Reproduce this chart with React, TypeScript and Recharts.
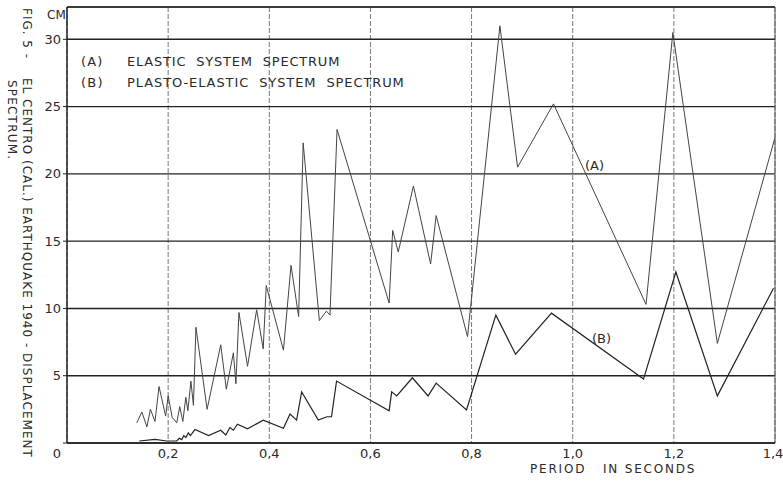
import React from 'react';
import { LineChart, Line, XAxis, YAxis, CartesianGrid, ReferenceLine } from 'recharts';

// Series A: elastic system spectrum (period s, displacement cm)
const periodsA = [0.138, 0.148, 0.158, 0.165, 0.174, 0.182, 0.195, 0.2, 0.208, 0.217, 0.223, 0.229, 0.235, 0.239, 0.245, 0.25, 0.255, 0.277, 0.304, 0.315, 0.329, 0.334, 0.34, 0.357, 0.375, 0.388, 0.394, 0.428, 0.443, 0.458, 0.467, 0.499, 0.513, 0.52, 0.534, 0.637, 0.644, 0.655, 0.685, 0.719, 0.73, 0.792, 0.856, 0.891, 0.962, 1.145, 1.198, 1.286, 1.4];
const elasticA = [1.5, 2.3, 1.2, 2.5, 1.6, 4.2, 2.0, 3.5, 1.9, 1.5, 2.7, 1.6, 3.4, 2.4, 4.6, 2.8, 8.6, 2.5, 7.3, 4.0, 6.7, 4.4, 9.7, 5.7, 9.9, 7.0, 11.7, 6.9, 13.2, 9.4, 22.3, 9.1, 9.8, 9.5, 23.3, 10.4, 15.8, 14.2, 19.1, 13.3, 16.9, 7.9, 31.0, 20.5, 25.2, 10.3, 30.5, 7.4, 22.7];

// Series B: plasto-elastic system spectrum
const periodsB = [0.143, 0.174, 0.197, 0.217, 0.222, 0.227, 0.231, 0.235, 0.24, 0.244, 0.253, 0.28, 0.304, 0.314, 0.322, 0.329, 0.337, 0.357, 0.388, 0.428, 0.441, 0.454, 0.464, 0.497, 0.514, 0.523, 0.533, 0.637, 0.642, 0.652, 0.683, 0.714, 0.73, 0.79, 0.848, 0.887, 0.958, 1.14, 1.204, 1.286, 1.397];
const plastoB = [0.15, 0.27, 0.15, 0.15, 0.35, 0.25, 0.55, 0.4, 0.75, 0.55, 1.0, 0.55, 0.95, 0.6, 1.15, 0.95, 1.4, 1.05, 1.7, 1.1, 2.15, 1.7, 3.8, 1.7, 1.95, 1.95, 4.6, 2.4, 3.8, 3.5, 4.85, 3.5, 4.45, 2.45, 9.5, 6.6, 9.65, 4.75, 12.7, 3.5, 11.5];

const xTicks = [0, 0.2, 0.4, 0.6, 0.8, 1.0, 1.2, 1.4];
const xTickLabels = ['0', '0,2', '0,4', '0,6', '0,8', '1,0', '1,2', '1,4'];
const yTicks = [0, 5, 10, 15, 20, 25, 30];
const yTickLabels = ['0', '5', '10', '15', '20', '25', '30'];
const yMax = 32.4;

const legendA = ['(A)', 'ELASTIC  SYSTEM  SPECTRUM'];
const legendB = ['(B)', 'PLASTO-ELASTIC  SYSTEM  SPECTRUM'];
const titleParts = ['FIG. 5 -', 'EL CENTRO (CAL.) EARTHQUAKE 1940 - DISPLACEMENT', 'SPECTRUM.'];
const xTitle = 'PERIOD   IN SECONDS';
const yUnit = 'CM';

const dataA = periodsA.map((x, i) => ({ x, y: elasticA[i] }));
const dataB = periodsB.map((x, i) => ({ x, y: plastoB[i] }));

const FONT = '"DejaVu Sans", sans-serif';
const INK = '#2a2a2a';

const XTick = (props: any) => {
  const { x, y, payload } = props;
  const i = xTicks.indexOf(payload.value);
  const dx = payload.value === 0 ? -10 : 0;
  return (
    <text x={x + dx} y={y + 10} textAnchor="middle" dominantBaseline="central" fontSize={13} fill={INK} fontFamily={FONT}>
      {xTickLabels[i]}
    </text>
  );
};

const YTick = (props: any) => {
  const { x, y, payload } = props;
  if (payload.value === 0) return null;
  const i = yTicks.indexOf(payload.value);
  return (
    <text x={x - 2} y={y} textAnchor="end" dominantBaseline="central" fontSize={13} fill={INK} fontFamily={FONT}>
      {yTickLabels[i]}
    </text>
  );
};

const abs = (left: number, top: number, extra: React.CSSProperties = {}): React.CSSProperties => ({
  position: 'absolute',
  left,
  top,
  fontFamily: FONT,
  color: INK,
  whiteSpace: 'pre',
  ...extra,
});

const rot = (left: number, top: number, spacing: number): React.CSSProperties =>
  abs(left, top, {
    fontSize: 12,
    lineHeight: '14px',
    letterSpacing: spacing,
    transform: 'rotate(90deg)',
    transformOrigin: 'left top',
  });

export default function App() {
  return (
    <div style={{ position: 'absolute', left: 0, top: 0, width: 783, height: 483, background: '#fff' }}>
      <LineChart width={783} height={483} data={dataA} margin={{ top: 7, right: 8, bottom: 10, left: 27 }}>
        <CartesianGrid horizontal={false} stroke="#777" strokeDasharray="5 2" strokeWidth={1} />
        <CartesianGrid vertical={false} stroke="#222" strokeWidth={1.4} />
        <XAxis
          type="number"
          dataKey="x"
          domain={[0, 1.4]}
          ticks={xTicks}
          height={30}
          tickSize={0}
          tickMargin={0}
          tick={<XTick />}
          axisLine={{ stroke: '#222', strokeWidth: 1.5 }}
          tickLine={false}
          allowDataOverflow
        />
        <YAxis
          type="number"
          dataKey="y"
          domain={[0, yMax]}
          ticks={yTicks}
          width={40}
          tickSize={4}
          tickMargin={0}
          tick={<YTick />}
          axisLine={{ stroke: '#222', strokeWidth: 1.5 }}
          tickLine={{ stroke: '#222' }}
          allowDataOverflow
        />
        <ReferenceLine y={yMax} stroke="#333" strokeWidth={1.3} />
        <ReferenceLine x={1.4} stroke="#555" strokeWidth={1} />
        <Line data={dataA} dataKey="y" type="linear" stroke="#444" strokeWidth={1} dot={false} isAnimationActive={false} />
        <Line data={dataB} dataKey="y" type="linear" stroke="#222" strokeWidth={1.2} dot={false} isAnimationActive={false} />
      </LineChart>

      <div style={abs(47, 8, { fontSize: 12, lineHeight: '14px' })}>{yUnit}</div>

      <div style={abs(81, 54, { fontSize: 13, lineHeight: '16px', letterSpacing: 1.2 })}>{legendA[0]}</div>
      <div style={abs(127, 54, { fontSize: 13, lineHeight: '16px', letterSpacing: 0.8 })}>{legendA[1]}</div>
      <div style={abs(81, 75, { fontSize: 13, lineHeight: '16px', letterSpacing: 1.2 })}>{legendB[0]}</div>
      <div style={abs(127, 75, { fontSize: 13, lineHeight: '16px', letterSpacing: 0.9 })}>{legendB[1]}</div>

      <div style={abs(585, 158, { fontSize: 13, lineHeight: '16px' })}>(A)</div>
      <div style={abs(592, 331, { fontSize: 13, lineHeight: '16px' })}>(B)</div>

      <div style={abs(530, 462, { fontSize: 12, lineHeight: '14px', letterSpacing: 1.8 })}>{xTitle}</div>

      <div style={rot(34, 8, 1)}>{titleParts[0]}</div>
      <div style={rot(34, 78, 1.0)}>{titleParts[1]}</div>
      <div style={rot(19, 80, 1.2)}>{titleParts[2]}</div>
    </div>
  );
}
